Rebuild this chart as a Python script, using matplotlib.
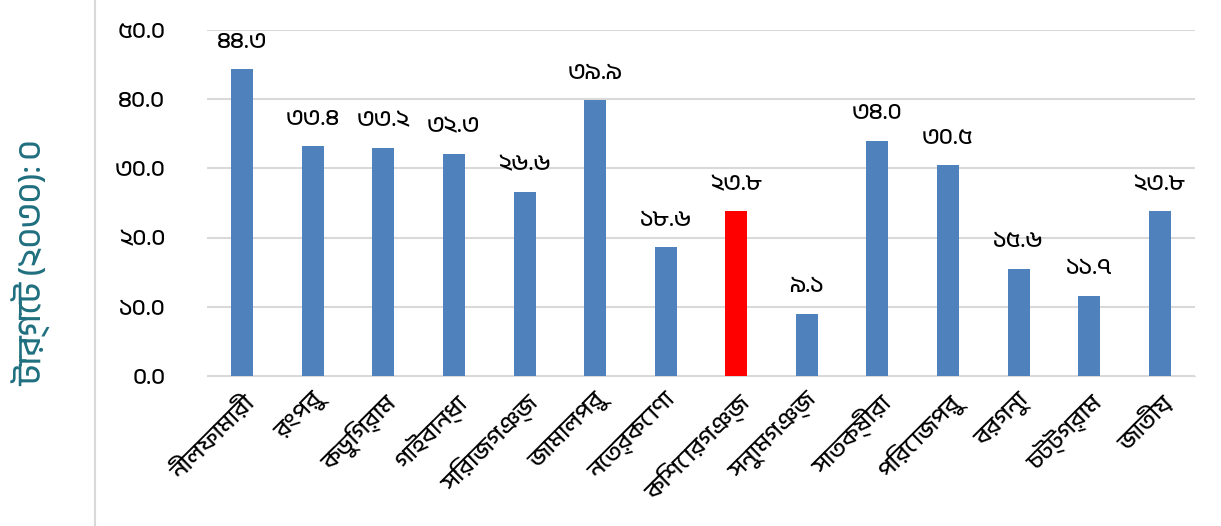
import matplotlib
matplotlib.use("Agg")
import matplotlib.pyplot as plt
from matplotlib import font_manager as fm

names = sorted({f.name for f in fm.fontManager.ttflist})
beng = [n for n in names if any(k in n for k in ("Bengali","Bangla","Lohit","Kalpurush","Siyam","Vrinda","Mukti","FreeSans","FreeSerif"))]

categories = ["নীলফামারী","রংপুর","কুড়িগ্রাম","গাইবান্ধা","সিরাজগঞ্জ","জামালপুর","নেত্রকোণা","কিশোরগঞ্জ","সুনামগঞ্জ","সাতক্ষীরা","পিরোজপুর","বরগুনা","চট্টগ্রাম","জাতীয়"]
values = [44.3, 33.2, 33.0, 32.1, 26.6, 39.9, 18.6, 23.8, 9.0, 34.0, 30.5, 15.5, 11.6, 23.8]
labels = ["৪৪.৩","৩৩.৪","৩৩.২","৩২.৩","২৬.৬","৩৯.৯","১৮.৬","২৩.৮","৯.১","৩৪.০","৩০.৫","১৫.৬","১১.৭","২৩.৮"]
yticks = [0,10,20,30,40,50]
yticklabels = ["০.০","১০.০","২০.০","৩০.০","৪০.০","৫০.০"]
highlight = "কিশোরগঞ্জ"

fam = beng[:1] + ["DejaVu Sans"]
plt.rcParams['font.family'] = fam

fig = plt.figure(figsize=(12.21,5.26), dpi=100)
ax = fig.add_axes([207/1221, 1-376/526, (1195-207)/1221, (376-30)/526])
cols = ["#ff0000" if c == highlight else "#4f81bd" for c in categories]
x = range(len(categories))
ax.bar(x, values, width=0.31, color=cols, zorder=3)
for i,(v,l) in enumerate(zip(values,labels)):
    ax.text(i, v+2.5, l, ha='center', va='bottom', fontsize=17, fontweight='bold')
ax.set_ylim(0,50)
ax.set_xlim(-0.5, len(categories)-0.5)
ax.set_yticks(yticks)
ax.set_yticklabels(yticklabels, fontsize=17, fontweight='bold')
ax.set_xticks(list(x))
ax.set_xticklabels(categories, rotation=45, ha='right', rotation_mode='anchor', fontsize=17)
ax.grid(axis='y', color='#d9d9d9', lw=1.5, zorder=0)
for s in ['top','right','left']:
    ax.spines[s].set_visible(False)
ax.spines['bottom'].set_color('#d9d9d9')
ax.tick_params(length=0, pad=10)
ax.tick_params(axis='y', pad=30)
fig.text(0.027, 0.5, "টার্গেট (২০৩০): ০", rotation=90, ha='center', va='center', fontsize=24, color='#1f6f7f')
fig.add_artist(plt.Line2D([95/1221,95/1221],[0,1], color='#d9d9d9', lw=1.5, transform=fig.transFigure))
fig.savefig("out.png", dpi=100)
